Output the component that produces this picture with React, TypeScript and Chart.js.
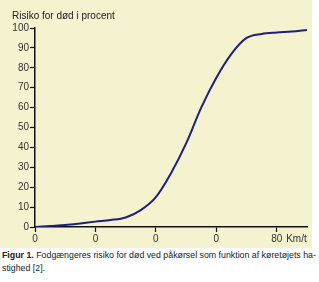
import React, { useEffect, useRef } from "react";
import { Chart, registerables } from "chart.js";

Chart.register(...registerables);

const speeds = [0, 5, 10, 15, 20, 25, 30, 35, 40, 45, 50, 55, 60, 65, 70, 75, 80, 85, 90];
const risk = [0, 0.5, 1, 1.8, 2.7, 3.5, 4.8, 8.5, 15, 27, 42, 60, 75, 87, 95, 97, 97.7, 98.2, 99];
const xTickValues = [0, 20, 40, 60, 80];
const xTickLabels = ["0", "0", "0", "0", "80"];
const xUnitLabel = "Km/t";
const xUnitPos = 86.5;
const yTitle = "Risiko for død i procent";
const captionBold = "Figur 1.";
const captionLine1 = " Fodgængeres risiko for død ved påkørsel som funktion af køretøjets ha-";
const captionLine2 = "stighed [2].";

const BG = "#f4f2cf";
const FONT = "'Liberation Sans', Arial, sans-serif";

export default function App() {
  const ref = useRef<HTMLCanvasElement | null>(null);

  useEffect(() => {
    document.body.style.margin = "0";
    const canvas = ref.current;
    if (!canvas) return;
    const titlePlugin = {
      id: "ytitle",
      beforeDraw(chart: any) {
        const ctx = chart.ctx;
        ctx.save();
        ctx.fillStyle = BG;
        ctx.fillRect(0, 0, chart.width, chart.height);
        ctx.restore();
      },
      afterDraw(chart: any) {
        const ctx = chart.ctx;
        ctx.save();
        ctx.fillStyle = "#222";
        ctx.font = `10px ${FONT}`;
        ctx.textBaseline = "middle";
        ctx.textAlign = "left";
        ctx.fillText(yTitle, 12, 16);
        ctx.restore();
      },
    };
    const chart = new Chart(canvas, {
      type: "line",
      data: {
        datasets: [
          {
            data: speeds.map((s, i) => ({ x: s, y: risk[i] })),
            borderColor: "#1d1f7c",
            borderWidth: 2,
            pointRadius: 0,
            cubicInterpolationMode: "monotone",
            fill: false,
          },
        ],
      },
      options: {
        animation: false,
        responsive: false,
        layout: { padding: { top: 28, right: 5, left: 0, bottom: 0 } },
        plugins: { legend: { display: false }, tooltip: { enabled: false } },
        scales: {
          x: {
            type: "linear",
            min: 0,
            max: 90,
            afterBuildTicks(scale: any) {
              scale.ticks = [...xTickValues.map((v) => ({ value: v })), { value: xUnitPos }];
            },
            afterFit(scale: any) {
              scale.height = 21;
            },
            ticks: {
              autoSkip: false,
              maxRotation: 0,
              padding: 1,
              color: "#333",
              font: { size: 10, family: FONT },
              callback: (v: any) => {
                const idx = xTickValues.indexOf(Number(v));
                if (idx >= 0) return xTickLabels[idx];
                return xUnitLabel;
              },
            },
            grid: {
              drawOnChartArea: false,
              drawTicks: true,
              tickLength: 5,
              tickWidth: 1.2,
              tickColor: (c: any) => (c.tick && c.tick.value === xUnitPos ? "rgba(0,0,0,0)" : "#111"),
            },
            border: { color: "#111", width: 1.5 },
          },
          y: {
            min: 0,
            max: 100,
            afterFit(scale: any) {
              scale.width = 35;
            },
            ticks: {
              stepSize: 10,
              padding: 1,
              color: "#333",
              font: { size: 10, family: FONT },
            },
            grid: {
              drawOnChartArea: false,
              drawTicks: true,
              tickLength: 5,
              tickWidth: 1.2,
              tickColor: "#111",
            },
            border: { color: "#111", width: 1.5 },
          },
        },
      },
      plugins: [titlePlugin],
    } as any);
    return () => chart.destroy();
  }, []);

  return (
    <div style={{ position: "relative", width: 319, height: 282, background: "#fff" }}>
      <canvas ref={ref} width={312} height={248} style={{ display: "block" }} />
      <div
        style={{
          position: "absolute",
          left: 2,
          top: 249,
          width: 315,
          fontFamily: FONT,
          fontSize: 8.8,
          lineHeight: "13px",
          color: "#222",
          whiteSpace: "nowrap",
        }}
      >
        <b>{captionBold}</b>
        {captionLine1}
        <br />
        {captionLine2}
      </div>
    </div>
  );
}
